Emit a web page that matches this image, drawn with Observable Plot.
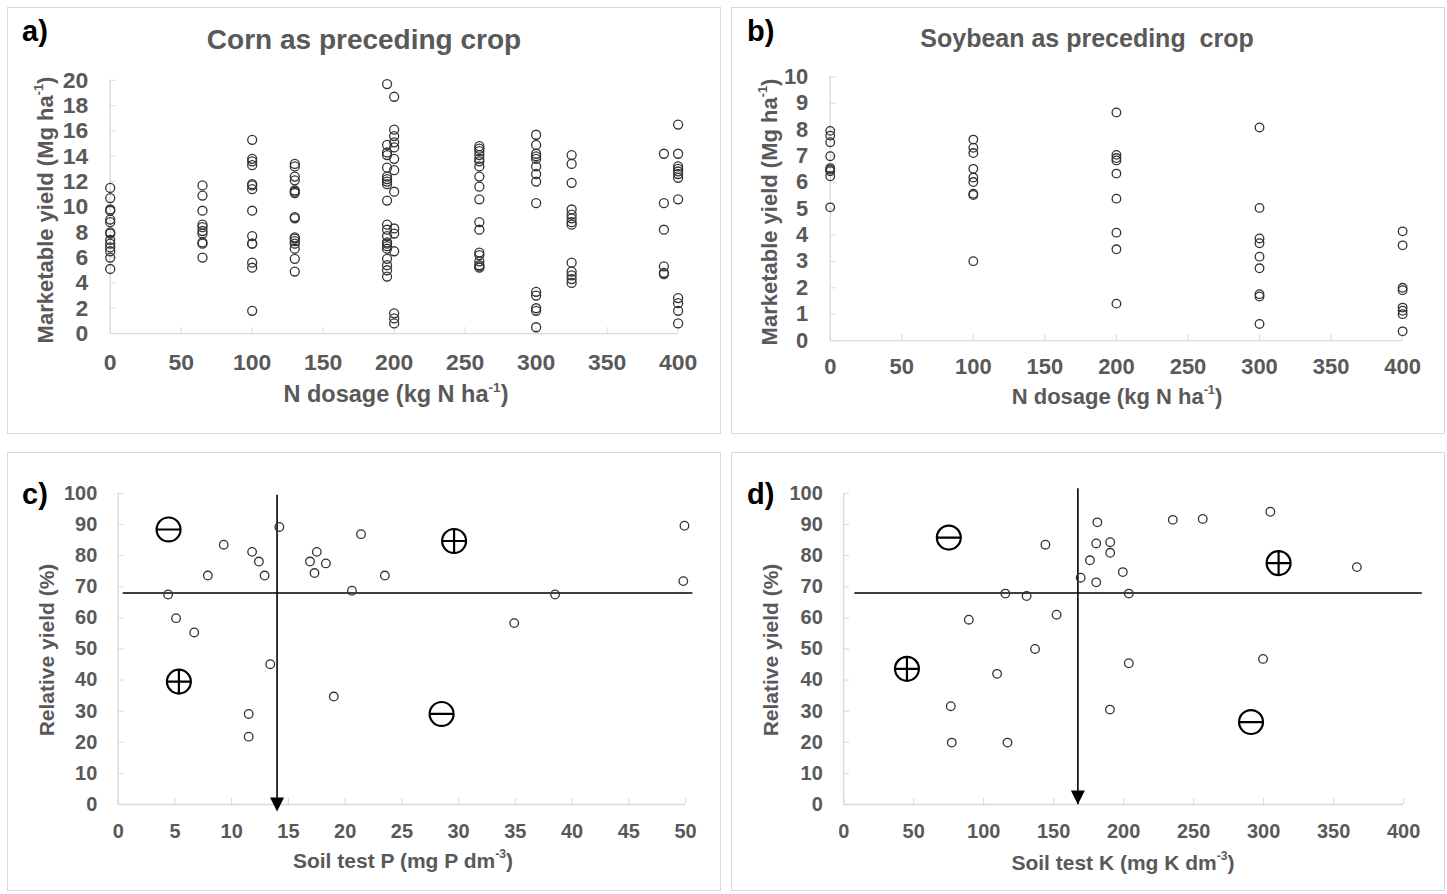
<!DOCTYPE html>
<html><head><meta charset="utf-8">
<script src="https://cdn.jsdelivr.net/npm/d3@7"></script>
<script src="https://cdn.jsdelivr.net/npm/@observablehq/plot@0.6"></script>
<style>
body{margin:0;background:#fff;font-family:"Liberation Sans",Arial,sans-serif;}
#root{position:relative;width:1447px;height:894px;overflow:hidden;background:#fff;}
.panel{position:absolute;box-sizing:border-box;border:1px solid #d9d9d9;}
.panel svg{position:absolute;left:-1px;top:-1px;overflow:visible;}
.panel svg text{font-weight:bold;font-family:"Liberation Sans",Arial,sans-serif;}
.txt{position:absolute;white-space:nowrap;font-weight:bold;color:#595959;line-height:1;transform:translate(-50%,-50%);}
.rot{transform:translate(-50%,-50%) rotate(-90deg);}
.lab{position:absolute;font-weight:bold;color:#000;font-size:29px;line-height:1;transform:translateY(-50%);}
sup{font-size:0.58em;line-height:0;vertical-align:0.75em;}
</style></head>
<body><div id="root"></div>
<script>
// ---------- Panel a: corn as preceding crop (N dose -> marketable yield) ----------
const cornY0   = [11.5, 10.7, 9.8, 9.7, 9.0, 8.8, 8.0, 7.9, 7.4, 7.1, 6.8, 6.5, 6.0, 5.1];
const cornY65  = [11.7, 10.9, 9.7, 8.6, 8.4, 8.1, 7.9, 7.2, 7.1, 6.0];
const cornY100 = [15.3, 13.8, 13.6, 13.3, 11.8, 11.7, 11.4, 9.7, 7.7, 7.1, 7.1, 5.6, 5.2, 1.8];
const cornY130 = [13.4, 13.2, 12.4, 12.1, 11.3, 11.2, 11.1, 9.2, 9.1, 7.6, 7.5, 7.3, 7.1, 6.7, 5.9, 4.9];
const cornY195 = [19.7, 14.9, 14.3, 14.1, 13.1, 12.4, 12.2, 12.0, 11.8, 10.5, 8.6, 8.2, 7.7, 7.2, 7.1, 6.9, 6.7, 5.9, 5.4, 5.0, 4.5];
const cornY200 = [18.7, 16.1, 15.6, 15.1, 14.7, 13.8, 12.9, 11.2, 8.3, 7.9, 6.5, 1.6, 1.2, 0.8];
const cornY260 = [14.8, 14.6, 14.4, 14.1, 13.8, 13.6, 13.2, 12.4, 11.6, 10.6, 8.8, 8.2, 6.4, 6.2, 5.7, 5.4, 5.3, 5.2];
const cornY300 = [15.7, 14.9, 14.2, 14.0, 13.8, 13.2, 12.6, 12.0, 10.3, 3.3, 3.0, 2.0, 1.8, 0.5];
const cornY325 = [14.1, 13.4, 11.9, 9.8, 9.4, 9.1, 8.8, 8.6, 5.6, 4.9, 4.6, 4.3, 4.0];
const cornY390 = [14.2, 10.3, 8.2, 5.3, 4.8, 4.7];
const cornY400 = [16.5, 14.2, 13.2, 13.0, 12.8, 12.6, 12.3, 10.6, 2.8, 2.4, 1.8, 0.8];
const cornDoses = [0, 65, 100, 130, 195, 200, 260, 300, 325, 390, 400];
const cornYields = [cornY0, cornY65, cornY100, cornY130, cornY195, cornY200, cornY260, cornY300, cornY325, cornY390, cornY400];
const cornTicksX = [0, 50, 100, 150, 200, 250, 300, 350, 400];
const cornTicksY = [0, 2, 4, 6, 8, 10, 12, 14, 16, 18, 20];

// ---------- Panel b: soybean as preceding crop ----------
const soyY0   = [7.95, 7.77, 7.52, 6.99, 6.54, 6.48, 6.42, 6.23, 5.05];
const soyY100 = [7.62, 7.31, 7.11, 6.51, 6.18, 6.01, 5.57, 5.52, 3.01];
const soyY200 = [8.65, 7.04, 6.92, 6.83, 6.33, 5.38, 4.09, 3.46, 1.40];
const soyY300 = [8.08, 5.03, 3.87, 3.69, 3.18, 2.74, 1.76, 1.67, 0.63];
const soyY400 = [4.14, 3.61, 2.00, 1.91, 1.25, 1.13, 1.00, 0.35];
const soyDoses = [0, 100, 200, 300, 400];
const soyYields = [soyY0, soyY100, soyY200, soyY300, soyY400];
const soyTicksX = [0, 50, 100, 150, 200, 250, 300, 350, 400];
const soyTicksY = [0, 1, 2, 3, 4, 5, 6, 7, 8, 9, 10];

// ---------- Panel c: soil test P vs relative yield ----------
const soilP = [4.4, 5.1, 6.7, 7.9, 9.3, 11.8, 12.4, 12.9, 13.4, 14.2, 11.5, 11.5, 16.9, 17.5, 17.3, 18.3, 19.0, 20.6, 21.4, 23.5, 34.9, 38.5, 49.9, 49.8];
const ryP   = [67.5, 59.9, 55.3, 73.6, 83.5, 81.2, 78.1, 73.6, 45.1, 89.2, 29.1, 21.8, 78.1, 81.2, 74.4, 77.5, 34.7, 68.7, 86.9, 73.6, 58.3, 67.5, 89.6, 71.8];
const refLineP = [{x1: 0.4, x2: 50.6, y: 68}];
const critP = [{x: 14.0, top: 99.4, bottom: 0}];
const plusP  = [{x: 5.35, y: 39.5}, {x: 29.6, y: 84.7}];
const minusP = [{x: 4.44, y: 88.4}, {x: 28.5, y: 29.1}];
const pTicksX = [0, 5, 10, 15, 20, 25, 30, 35, 40, 45, 50];
const ryTicksY = [0, 10, 20, 30, 40, 50, 60, 70, 80, 90, 100];

// ---------- Panel d: soil test K vs relative yield ----------
const soilK = [181.2, 180.4, 144.1, 175.9, 169.3, 180.4, 115.5, 130.7, 152.1, 89.4, 136.7, 109.6, 76.5, 77.2, 117.0, 190.4, 190.4, 199.4, 203.7, 235.1, 256.5, 304.8, 366.6, 203.7, 299.6, 190.2];
const ryK   = [90.7, 83.9, 83.5, 78.5, 72.9, 71.4, 67.8, 67.0, 61.0, 59.4, 50.0, 42.0, 31.6, 19.9, 19.9, 84.3, 80.9, 74.7, 67.8, 91.5, 91.8, 94.1, 76.3, 45.4, 46.8, 30.5];
const refLineK = [{x1: 7.6, x2: 413, y: 68}];
const critK = [{x: 167.3, top: 101.5, bottom: 0}];
const plusK  = [{x: 45.2, y: 43.6}, {x: 310.7, y: 77.6}];
const minusK = [{x: 75.1, y: 85.8}, {x: 291, y: 26.5}];
const kTicksX = [0, 50, 100, 150, 200, 250, 300, 350, 400];

// ---------- helpers ----------
const AXIS = "#d9d9d9", TXT = "#595959", PT = "#333333";
const plusSym = {draw(c, size){ const r = Math.sqrt(size/Math.PI); c.moveTo(r,0); c.arc(0,0,r,0,2*Math.PI); c.moveTo(-r,0); c.lineTo(r,0); c.moveTo(0,-r); c.lineTo(0,r); }};
const minusSym = {draw(c, size){ const r = Math.sqrt(size/Math.PI); c.moveTo(r,0); c.arc(0,0,r,0,2*Math.PI); c.moveTo(-r,0); c.lineTo(r,0); }};
const downTri = {draw(c, size){ const r = Math.sqrt(size/Math.PI); c.moveTo(0,r); c.lineTo(-r,-r); c.lineTo(r,-r); c.closePath(); }};

const root = document.getElementById("root");
function panel(left, top, w, h, svg){
  const d = document.createElement("div");
  d.className = "panel";
  Object.assign(d.style, {left: left+"px", top: top+"px", width: w+"px", height: h+"px"});
  d.appendChild(svg);
  root.appendChild(d);
}
function text(html, x, y, size, cls){
  const d = document.createElement("div");
  d.className = cls || "txt";
  d.innerHTML = html;
  Object.assign(d.style, {left: x+"px", top: y+"px", fontSize: size+"px"});
  root.appendChild(d);
}
function axes(tx, ty, fs, xOff, yOff){
  return [
    Plot.ruleX([0], {stroke: AXIS, strokeWidth: 1.3}),
    Plot.ruleY([0], {stroke: AXIS, strokeWidth: 1.3}),
    Plot.axisX({ticks: tx, tickSize: -6, tickPadding: xOff + 6, stroke: AXIS, fill: TXT, fontSize: fs, fontWeight: "bold", label: null, tickFormat: d => String(d)}),
    Plot.axisY({ticks: ty, tickSize: -6, tickPadding: yOff + 6, stroke: AXIS, fill: TXT, fontSize: fs, fontWeight: "bold", label: null, tickFormat: d => String(d)})
  ];
}

// Panel a
const cornData = cornDoses.flatMap((n, i) => cornYields[i].map(y => ({n, y})));
panel(7, 7, 714, 427, Plot.plot({
  width: 714, height: 427, marginLeft: 103, marginRight: 41.5, marginTop: 73, marginBottom: 100,
  x: {domain: [0, 400]}, y: {domain: [0, 20]},
  style: {background: "transparent", overflow: "visible"},
  marks: [
    ...axes(cornTicksX, cornTicksY, 23, 20, 22),
    Plot.dot(cornData, {x: "n", y: "y", r: 4.5, stroke: PT, strokeWidth: 1.3, fill: "none"})
  ]
}));

// Panel b
const soyData = soyDoses.flatMap((n, i) => soyYields[i].map(y => ({n, y})));
panel(731, 7, 714, 427, Plot.plot({
  width: 714, height: 427, marginLeft: 99, marginRight: 41, marginTop: 69.5, marginBottom: 93,
  x: {domain: [0, 400]}, y: {domain: [0, 10]},
  style: {background: "transparent", overflow: "visible"},
  marks: [
    ...axes(soyTicksX, soyTicksY, 22, 18, 22),
    Plot.dot(soyData, {x: "n", y: "y", r: 4.3, stroke: PT, strokeWidth: 1.3, fill: "none"})
  ]
}));

// Panel c
panel(7, 452, 714, 439, Plot.plot({
  width: 714, height: 439, marginLeft: 111, marginRight: 34, marginTop: 41, marginBottom: 86,
  x: {domain: [0, 50]}, y: {domain: [0, 100]},
  style: {background: "transparent", overflow: "visible"},
  marks: [
    ...axes(pTicksX, ryTicksY, 20, 19, 21),
    Plot.link(refLineP, {x1: "x1", x2: "x2", y1: "y", y2: "y", stroke: "#000", strokeWidth: 1.6}),
    Plot.ruleX(critP, {x: "x", y1: "top", y2: "bottom", stroke: "#000", strokeWidth: 1.6}),
    Plot.dot(critP, {x: "x", y: "bottom", symbol: downTri, r: 7, fill: "#000", stroke: "none"}),
    Plot.dot(soilP.map((x, i) => ({x, y: ryP[i]})), {x: "x", y: "y", r: 4.3, stroke: PT, strokeWidth: 1.3, fill: "none"}),
    Plot.dot(plusP, {x: "x", y: "y", symbol: plusSym, r: 12, stroke: "#000", strokeWidth: 2.2, fill: "none"}),
    Plot.dot(minusP, {x: "x", y: "y", symbol: minusSym, r: 12, stroke: "#000", strokeWidth: 2.2, fill: "none"})
  ]
}));

// Panel d
panel(731, 452, 714, 439, Plot.plot({
  width: 714, height: 439, marginLeft: 112.5, marginRight: 40, marginTop: 41, marginBottom: 86,
  x: {domain: [0, 400]}, y: {domain: [0, 100]},
  style: {background: "transparent", overflow: "visible"},
  marks: [
    ...axes(kTicksX, ryTicksY, 20, 19, 21),
    Plot.link(refLineK, {x1: "x1", x2: "x2", y1: "y", y2: "y", stroke: "#000", strokeWidth: 1.6}),
    Plot.ruleX(critK, {x: "x", y1: "top", y2: "bottom", stroke: "#000", strokeWidth: 1.6}),
    Plot.dot(critK, {x: "x", y: "bottom", symbol: downTri, r: 7, dy: -7, fill: "#000", stroke: "none"}),
    Plot.dot(soilK.map((x, i) => ({x, y: ryK[i]})), {x: "x", y: "y", r: 4.3, stroke: PT, strokeWidth: 1.3, fill: "none"}),
    Plot.dot(plusK, {x: "x", y: "y", symbol: plusSym, r: 12, stroke: "#000", strokeWidth: 2.2, fill: "none"}),
    Plot.dot(minusK, {x: "x", y: "y", symbol: minusSym, r: 12, stroke: "#000", strokeWidth: 2.2, fill: "none"})
  ]
}));

// ---------- text ----------
text("a)", 22, 31, 29, "lab");
text("b)", 747, 31, 29, "lab");
text("c)", 22, 494, 29, "lab");
text("d)", 747, 494, 29, "lab");
text("Corn as preceding crop", 364, 40, 28);
text("Soybean as preceding&nbsp; crop", 1087, 38, 25);
text("N dosage (kg N ha<sup>-1</sup>)", 396, 395, 23.5);
text("N dosage (kg N ha<sup>-1</sup>)", 1117, 397, 22);
text("Marketable yield (Mg ha<sup>-1</sup>)", 46, 210, 22, "txt rot");
text("Marketable yield (Mg ha<sup>-1</sup>)", 770, 212, 22, "txt rot");
text("Soil test P (mg P dm<sup>-3</sup>)", 403, 860, 21);
text("Soil test K (mg K dm<sup>-3</sup>)", 1123, 862, 21);
text("Relative yield (%)", 46, 650, 21, "txt rot");
text("Relative yield (%)", 770, 650, 21, "txt rot");
</script>
</body></html>
